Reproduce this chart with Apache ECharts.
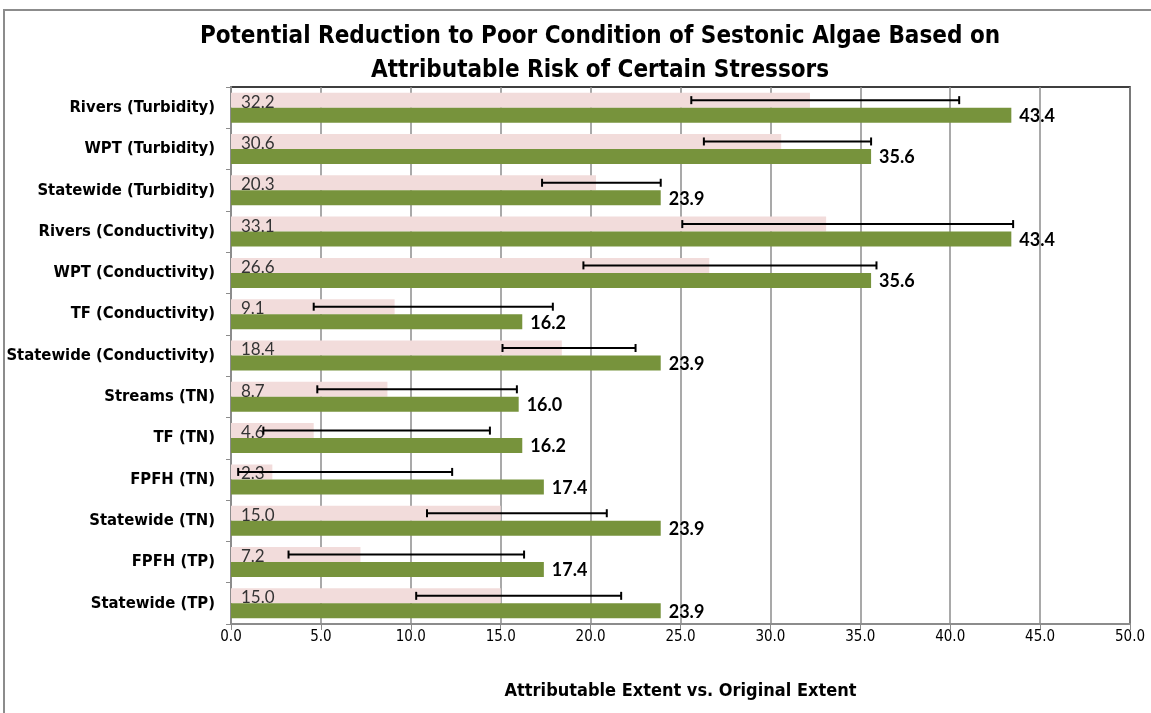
<!DOCTYPE html>
<html>
<head>
<meta charset="utf-8">
<script src="https://cdn.jsdelivr.net/npm/echarts@6/dist/echarts.min.js"></script>
<style>
html, body { margin: 0; padding: 0; background: #fff; overflow: hidden; }
#frame { position: absolute; left: 3px; top: 9px; width: 1200px; height: 760px; border-left: 2px solid #8c8c8c; border-top: 2px solid #8c8c8c; }
#chart { position: absolute; left: 0; top: 0; width: 1151px; height: 713px; }
</style>
</head>
<body>
<div id="frame"></div>
<div id="chart"></div>
<script>
var categories = ['Rivers (Turbidity)', 'WPT (Turbidity)', 'Statewide (Turbidity)', 'Rivers (Conductivity)',
    'WPT (Conductivity)', 'TF (Conductivity)', 'Statewide (Conductivity)', 'Streams (TN)', 'TF (TN)',
    'FPFH (TN)', 'Statewide (TN)', 'FPFH (TP)', 'Statewide (TP)'];
var attributable = [32.2, 30.6, 20.3, 33.1, 26.6, 9.1, 18.4, 8.7, 4.6, 2.3, 15.0, 7.2, 15.0];
var original = [43.4, 35.6, 23.9, 43.4, 35.6, 16.2, 23.9, 16.0, 16.2, 17.4, 23.9, 17.4, 23.9];
// error bar ends on the attributable bars
var errLow = [25.6, 26.3, 17.3, 25.1, 19.6, 4.6, 15.1, 4.8, 1.8, 0.4, 10.9, 3.2, 10.3];
var errHigh = [40.5, 35.6, 23.9, 43.5, 35.9, 17.9, 22.5, 15.9, 14.4, 12.3, 20.9, 16.3, 21.7];

var narrow = "'Liberation Sans Narrow', 'DejaVu Sans Condensed', 'Roboto', sans-serif";
var barW = 15;

var errData = [];
for (var i = 0; i < categories.length; i++) {
    errData.push([errLow[i], errHigh[i], i]);
}

var chart = echarts.init(document.getElementById('chart'));

var option = {
    animation: false,
    title: {
        text: 'Potential Reduction to Poor Condition of Sestonic Algae Based on\nAttributable Risk of Certain Stressors',
        left: 595,
        textAlign: 'center',
        top: 15,
        textStyle: {
            fontFamily: narrow,
            fontSize: 24,
            fontWeight: 'bold',
            color: '#000',
            lineHeight: 34
        }
    },
    grid: {
        left: 231,
        right: 21,
        top: 87,
        bottom: 89,
        outerBoundsMode: 'none',
        show: true,
        borderColor: '#000',
        borderWidth: 1.5
    },
    xAxis: {
        type: 'value',
        min: 0,
        max: 50,
        interval: 5,
        name: 'Attributable Extent vs. Original Extent',
        nameLocation: 'middle',
        nameGap: 58,
        nameTextStyle: {
            fontFamily: narrow,
            fontSize: 18,
            fontWeight: 'bold',
            color: '#000'
        },
        axisLine: { show: true, lineStyle: { color: '#8c8c8c', width: 2 } },
        axisTick: { show: true, length: 6, lineStyle: { color: '#8c8c8c' } },
        axisLabel: {
            margin: 6,
            fontFamily: narrow,
            fontSize: 15,
            color: '#000',
            formatter: function (v) { return v.toFixed(1); }
        },
        splitLine: { show: true, lineStyle: { color: '#8c8c8c', width: 1.5 } }
    },
    yAxis: {
        type: 'category',
        data: categories,
        inverse: true,
        axisLine: { show: true, lineStyle: { color: '#8c8c8c', width: 2 } },
        axisTick: { show: true, length: 5, lineStyle: { color: '#8c8c8c' } },
        axisLabel: {
            margin: 16,
            fontFamily: narrow,
            fontSize: 16.5,
            fontWeight: 'bold',
            color: '#000'
        }
    },
    series: [
        {
            name: 'Attributable',
            type: 'bar',
            data: attributable,
            barWidth: barW,
            barGap: '0%',
            itemStyle: { color: '#f2dcdb' },
            label: {
                show: true,
                position: 'insideLeft',
                distance: 10,
                offset: [0, 2],
                fontFamily: "'Lato', 'Open Sans', sans-serif",
                fontSize: 17,
                color: '#333',
                formatter: function (p) { return p.value.toFixed(1); }
            }
        },
        {
            name: 'Original',
            type: 'bar',
            data: original,
            barWidth: barW,
            itemStyle: { color: '#77933c' },
            label: {
                show: true,
                position: 'right',
                distance: 8,
                offset: [0, 1],
                fontFamily: "'Lato', 'Open Sans', sans-serif",
                fontSize: 18,
                fontWeight: 'bold',
                color: '#000',
                formatter: function (p) { return p.value.toFixed(1); }
            }
        },
        {
            name: 'Error',
            type: 'custom',
            data: errData,
            encode: { x: [0, 1], y: 2 },
            z: 10,
            renderItem: function (params, api) {
                var lo = api.coord([api.value(0), api.value(2)]);
                var hi = api.coord([api.value(1), api.value(2)]);
                var y = lo[1] - barW / 2;
                var cap = 4;
                var style = { stroke: '#000', lineWidth: 2 };
                return {
                    type: 'group',
                    children: [
                        { type: 'line', shape: { x1: lo[0], y1: y, x2: hi[0], y2: y }, style: style },
                        { type: 'line', shape: { x1: lo[0], y1: y - cap, x2: lo[0], y2: y + cap }, style: style },
                        { type: 'line', shape: { x1: hi[0], y1: y - cap, x2: hi[0], y2: y + cap }, style: style }
                    ]
                };
            }
        }
    ]
};

chart.setOption(option);
</script>
</body>
</html>
